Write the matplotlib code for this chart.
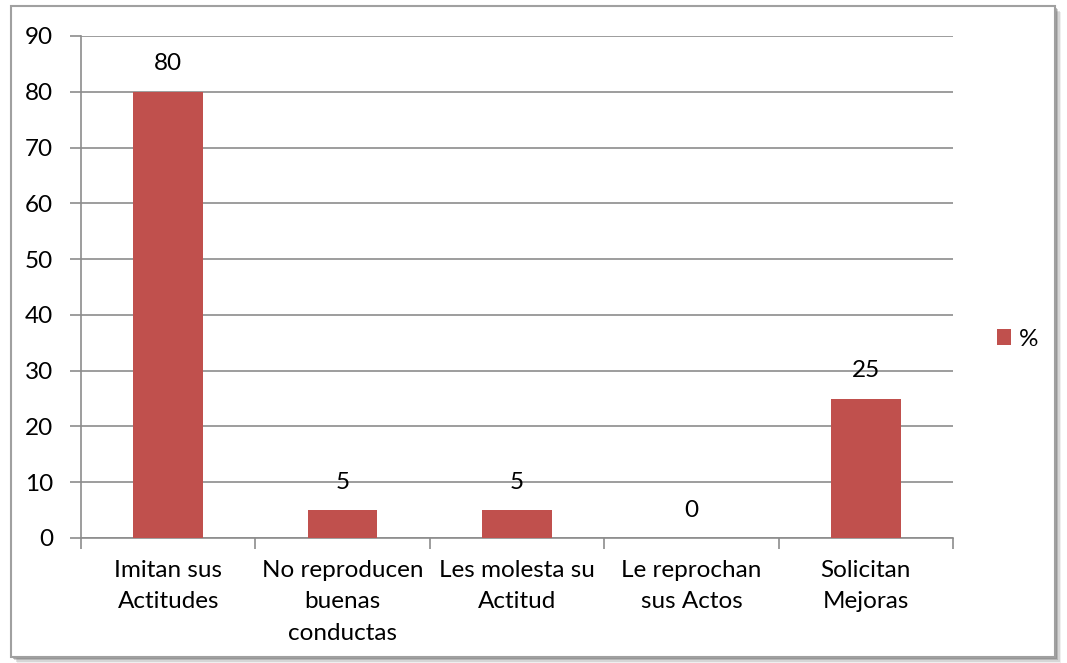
import matplotlib
matplotlib.use("Agg")
import matplotlib.pyplot as plt
from matplotlib.patches import Rectangle

categories = ["Imitan sus\nActitudes", "No reproducen\nbuenas\nconductas",
              "Les molesta su\nActitud", "Le reprochan\nsus Actos", "Solicitan\nMejoras"]
values = [80, 5, 5, 0, 25]
series_name = "%"
yticks = [0, 10, 20, 30, 40, 50, 60, 70, 80, 90]

plt.rcParams['font.family'] = ['Lato', 'DejaVu Sans']
FS = 17.5
W, H = 1067, 663
fig = plt.figure(figsize=(W / 100, H / 100), dpi=100)

# outer frame with shadow
for i, a in enumerate([0.10, 0.18, 0.28, 0.40]):
    off = (4 - i) * 1.6
    fig.patches.append(Rectangle(((11 + off) / W, (H - 657 - off) / H), 1044 / W, 651 / H,
                                 transform=fig.transFigure, facecolor=(0.4, 0.4, 0.4, a),
                                 edgecolor='none', zorder=0))
fig.patches.append(Rectangle((11 / W, (H - 657) / H), 1044 / W, 651 / H,
                             transform=fig.transFigure, facecolor='white',
                             edgecolor='#a0a0a0', linewidth=1.5, zorder=1))

ax = fig.add_axes([81 / W, (H - 538) / H, (953 - 81) / W, (538 - 36) / H])
ax.set_zorder(2)
ax.patch.set_alpha(0)
x = list(range(len(categories)))
bars = ax.bar(x, values, width=0.4, color='#C0504D', zorder=3, label=series_name)
ax.set_xlim(-0.5, len(categories) - 0.5)
ax.set_ylim(0, 90)
ax.set_yticks(yticks)
ax.yaxis.grid(True, color='#8c8c8c', linewidth=1.2, zorder=0)
ax.set_axisbelow(True)
for s in ['top', 'right']:
    ax.spines[s].set_visible(False)
for s in ['left', 'bottom']:
    ax.spines[s].set_color('#8c8c8c')
    ax.spines[s].set_linewidth(1.2)
ax.tick_params(axis='y', length=8, width=1.2, color='#8c8c8c', labelsize=FS, pad=12)
ax.set_xticks([i + 0.5 for i in range(-1, len(categories))], minor=False)
ax.set_xticklabels([''] * (len(categories) + 1))
ax.tick_params(axis='x', which='major', length=8, width=1.2, color='#8c8c8c')
ax.set_xticks(x, minor=True)
ax.set_xticklabels(categories, minor=True, fontsize=FS, linespacing=1.6, va='top')
ax.tick_params(axis='x', which='minor', length=0, pad=16)

for xi, v in zip(x, values):
    ax.text(xi, v + 5.0, str(v), ha='center', va='center', fontsize=FS)

leg = fig.legend(handles=[bars], labels=[series_name], loc='center left',
                 bbox_to_anchor=(975 / W, 1 - 339 / H), frameon=False,
                 fontsize=FS, handlelength=0.6, handleheight=0.6, handletextpad=0.3)

fig.savefig("out.png", dpi=100)
